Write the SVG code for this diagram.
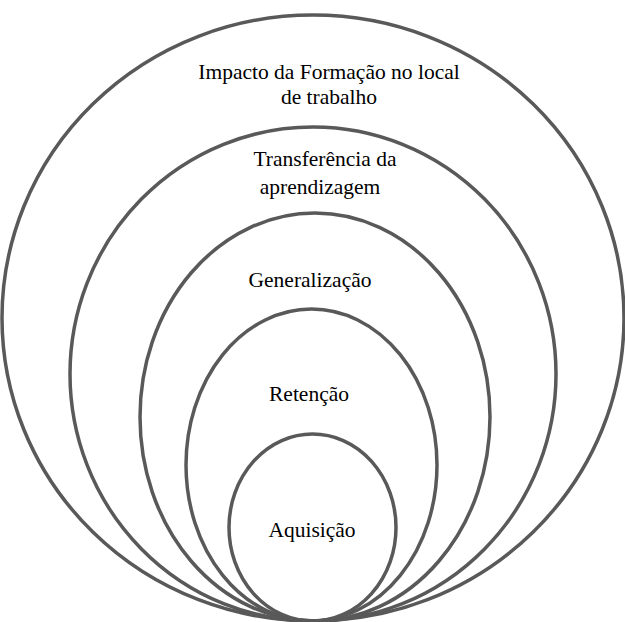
<svg xmlns="http://www.w3.org/2000/svg" width="625" height="622" viewBox="0 0 625 622">
  <style>
    .ring { fill: none; stroke: #595959; stroke-width: 3.5; }
    .label { font-family: "Liberation Serif", "Times New Roman", serif; font-size: 21.5px; fill: #000; text-anchor: middle; }
  </style>
  <rect width="625" height="622" fill="#fff"/>
  <!-- nested levels, all touching at the bottom -->
  <g id="impacto">
    <ellipse class="ring" cx="313" cy="318" rx="311" ry="303"/>
    <text class="label" x="329" y="79">Impacto da Formação no local</text>
    <text class="label" x="329" y="104">de trabalho</text>
  </g>
  <g id="transferencia">
    <ellipse class="ring" cx="313" cy="374" rx="243" ry="247"/>
    <text class="label" x="325" y="166">Transferência da</text>
    <text class="label" x="320" y="194">aprendizagem</text>
  </g>
  <g id="generalizacao">
    <ellipse class="ring" cx="315" cy="417" rx="175" ry="204"/>
    <text class="label" x="310" y="287">Generalização</text>
  </g>
  <g id="retencao">
    <ellipse class="ring" cx="311.5" cy="465" rx="125.5" ry="156"/>
    <text class="label" x="309" y="401">Retenção</text>
  </g>
  <g id="aquisicao">
    <ellipse class="ring" cx="312.5" cy="527.5" rx="83.5" ry="93.5"/>
    <text class="label" x="312" y="537">Aquisição</text>
  </g>
  <g id="connectors"/>
</svg>
